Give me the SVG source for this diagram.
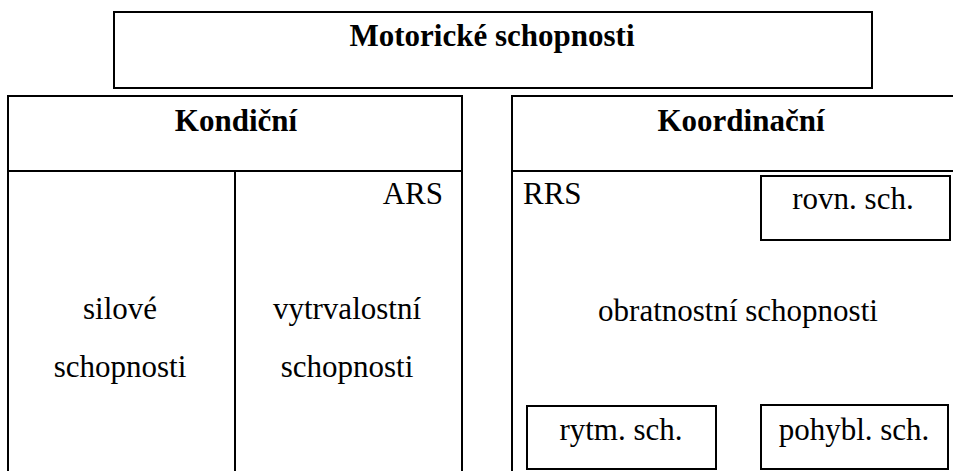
<svg xmlns="http://www.w3.org/2000/svg" width="953" height="471" viewBox="0 0 953 471">
  <style>
    .box { fill: none; stroke: #000; stroke-width: 2; }
    .line { stroke: #000; stroke-width: 2; }
    .t { font-family: "Liberation Serif", "Times New Roman", Times, serif; font-size: 31px; fill: #000; }
    .b { font-weight: bold; }
    .c { text-anchor: middle; }
    .r { text-anchor: end; }
  </style>
  <rect width="953" height="471" fill="#fff"/>

  <!-- top node -->
  <g id="motoricke">
    <rect class="box" x="114" y="12" width="758" height="76"/>
    <text class="t b c" x="492" y="46">Motorické schopnosti</text>
  </g>

  <!-- conditional abilities -->
  <g id="kondicni">
    <path class="box" d="M8,480 V96 H462 V480"/>
    <line class="line" x1="8" y1="171" x2="462" y2="171"/>
    <line class="line" x1="235" y1="171" x2="235" y2="480"/>
    <text class="t b c" x="236" y="131">Kondiční</text>
  </g>
  <g id="ars">
    <text class="t r" x="443" y="204">ARS</text>
  </g>
  <g id="silove">
    <text class="t c" x="120" y="319">silové</text>
    <text class="t c" x="120" y="377">schopnosti</text>
  </g>
  <g id="vytrvalostni">
    <text class="t c" x="347" y="319">vytrvalostní</text>
    <text class="t c" x="347" y="377">schopnosti</text>
  </g>

  <!-- coordination abilities -->
  <g id="koordinacni">
    <path class="box" d="M512,480 V96 H960"/>
    <line class="line" x1="512" y1="171" x2="960" y2="171"/>
    <text class="t b c" x="741" y="131">Koordinační</text>
  </g>
  <g id="rrs">
    <text class="t" x="523" y="204">RRS</text>
  </g>
  <g id="rovn">
    <rect class="box" x="761" y="176" width="189" height="64"/>
    <text class="t c" x="853" y="209">rovn. sch.</text>
  </g>
  <g id="obratnostni">
    <text class="t c" x="738" y="321">obratnostní schopnosti</text>
  </g>
  <g id="rytm">
    <rect class="box" x="527" y="406" width="189" height="63"/>
    <text class="t c" x="621" y="440">rytm. sch.</text>
  </g>
  <g id="pohybl">
    <rect class="box" x="761" y="405" width="187" height="64"/>
    <text class="t c" x="854" y="440">pohybl. sch.</text>
  </g>

  <g id="connectors"/>
</svg>
